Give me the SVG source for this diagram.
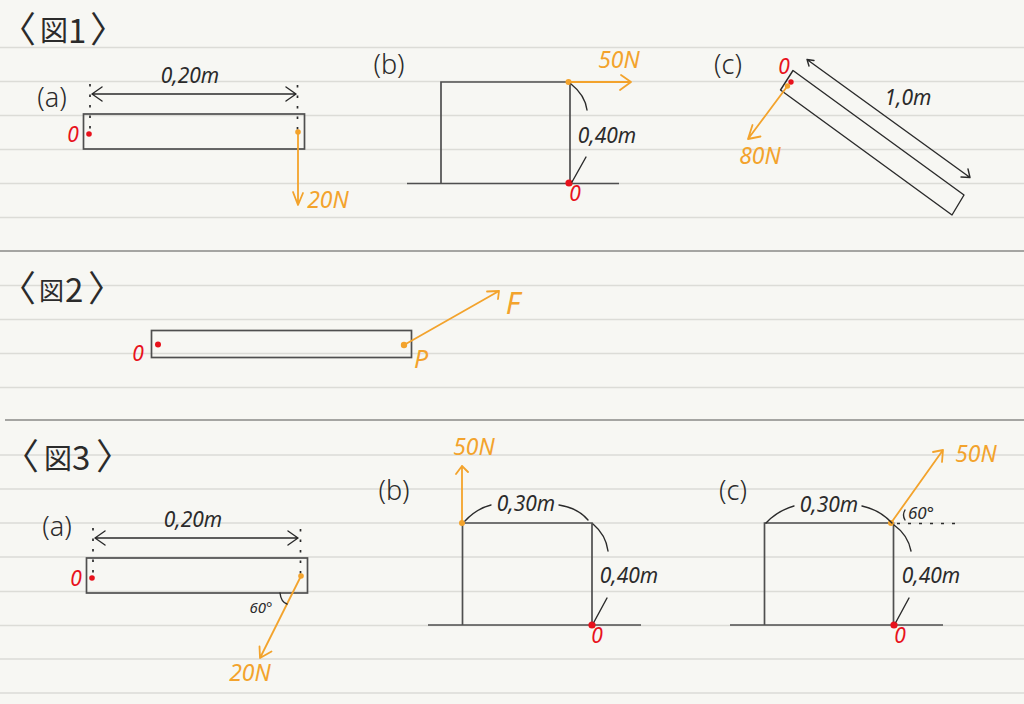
<svg xmlns="http://www.w3.org/2000/svg" width="1024" height="704" viewBox="0 0 1024 704">
<style>
.bg{fill:#f7f7f3}
.rule{stroke:#dcdcd7;stroke-width:1.5;fill:none}
.sep{stroke:#8b8b88;stroke-width:1.6;fill:none}
.body{stroke:#4f4f4f;stroke-width:1.7;fill:none}
.ink{stroke:#2b2b2b;stroke-width:1.4;fill:none;stroke-linecap:round;stroke-linejoin:round}
.dot{stroke:#2b2b2b;stroke-width:1.7;fill:none;stroke-dasharray:2.5 8}
.force{stroke:#f3a32c;stroke-width:1.8;fill:none;stroke-linecap:round;stroke-linejoin:round}
.r{fill:#e8121c}
.o{fill:#f3a32c}
text{font-family:"Noto Sans","Noto Sans CJK JP",sans-serif;font-style:italic;font-weight:400;text-anchor:middle}
.t{font-family:"Noto Sans CJK JP","Noto Sans",sans-serif;font-style:normal;font-size:33px;fill:#2b2b2b;text-anchor:start}
.b{font-size:36px}
.z{font-size:28px}
.k{font-size:21px;fill:#2b2b2b}
.kl{font-size:27px;fill:#2b2b2b;font-style:normal;font-weight:300}
.ko{font-size:23px;fill:#f3a32c}
.kr{font-size:21px;fill:#e8121c}
.s{font-size:15px;fill:#2b2b2b}
</style>
<rect class="bg" width="1024" height="704"/>
<g id="ruled-lines">
<path class="rule" d="M0 47.5H1024M0 81.5H1024M0 115.5H1024M0 149.5H1024M0 183.5H1024M0 217.5H1024M0 285.5H1024M0 319.5H1024M0 353.5H1024M0 387.5H1024M0 455H1024M0 489H1024M0 523H1024M0 557H1024M0 591.500H1024M0 625.500H1024M0 659H1024M0 693H1024"/>
<path class="sep" d="M0 251H1024M5 420H1024"/>
</g>
<g id="titles">
<text class="t" y="42"><tspan class="b" x="0" y="43">〈</tspan><tspan class="z" x="40" y="41">図</tspan><tspan x="68" y="43">1</tspan><tspan class="b" x="90" y="43">〉</tspan></text>
<text class="t" y="302"><tspan class="b" x="0" y="302">〈</tspan><tspan class="z" x="39" y="300" style="font-size:25px">図</tspan><tspan x="65" y="302">2</tspan><tspan class="b" x="88" y="302">〉</tspan></text>
<text class="t" y="470"><tspan class="b" x="3" y="470">〈</tspan><tspan class="z" x="44" y="469">図</tspan><tspan x="72" y="470">3</tspan><tspan class="b" x="96" y="470">〉</tspan></text>
</g>
<g id="fig1a">
<rect class="body" x="83.500" y="114" width="221" height="35"/>
<path class="dot" d="M90 84V130M297.500 85V130"/>
<circle class="r" cx="89" cy="134" r="2.800"/>
<circle class="o" cx="298" cy="132" r="2.800"/>
<text class="kl" x="52" y="107">(a)</text>
<text class="k" x="190" y="83">0,20m</text>
<text class="kr" x="73" y="142">0</text>
<text class="ko" x="328" y="208">20N</text>
</g>
<g id="fig1b">
<path class="body" d="M441 183V82H570V183M407 183.500H619"/>
<circle class="o" cx="568.500" cy="82" r="3"/>
<circle class="r" cx="569" cy="183" r="3.600"/>
<text class="kl" x="389" y="74">(b)</text>
<text class="ko" x="619" y="68">50N</text>
<text class="k" x="607" y="143">0,40m</text>
<text class="kr" x="575" y="201">0</text>
</g>
<g id="fig1c">
<path class="ink" d="M793 70.500L964 195L952 215L780.500 90Z"/>
<circle class="r" cx="791" cy="82" r="2.700"/>
<circle class="o" cx="787.500" cy="86" r="2.700"/>
<text class="kl" x="728" y="74">(c)</text>
<text class="kr" x="784" y="74">0</text>
<text class="k" x="908" y="105">1,0m</text>
<text class="ko" x="760" y="164">80N</text>
</g>
<g id="fig2">
<rect class="body" x="151.500" y="330.500" width="260" height="27"/>
<circle class="r" cx="158" cy="344.500" r="3"/>
<circle class="o" cx="404" cy="345" r="3.200"/>
<text class="kr" x="138" y="361">0</text>
<text class="ko" x="421" y="368" style="font-size:25px">P</text>
<text class="ko" x="513" y="314" style="font-size:30px">F</text>
</g>
<g id="fig3a">
<rect class="body" x="86.500" y="558" width="221" height="35"/>
<path class="dot" d="M93 528V574M300.500 529V574"/>
<circle class="r" cx="92" cy="578" r="2.800"/>
<circle class="o" cx="301" cy="576" r="2.800"/>
<text class="kl" x="57" y="536">(a)</text>
<text class="k" x="193" y="527">0,20m</text>
<text class="kr" x="76" y="586">0</text>
<text class="s" x="261" y="613">60°</text>
<text class="ko" x="250" y="681">20N</text>
</g>
<g id="fig3b">
<path class="body" d="M462.500 625V523H592V625M428 625H641"/>
<circle class="o" cx="462" cy="523" r="3"/>
<circle class="r" cx="592" cy="625" r="3.600"/>
<text class="kl" x="394" y="500">(b)</text>
<text class="ko" x="474" y="455">50N</text>
<text class="k" x="526" y="511">0,30m</text>
<text class="k" x="629" y="583">0,40m</text>
<text class="kr" x="597" y="643">0</text>
</g>
<g id="fig3c">
<path class="body" d="M764.500 625V523H893.500V625M730 625H943"/>
<path class="dot" d="M897 523.500H956" style="stroke-dasharray:3 8"/>
<circle class="o" cx="891" cy="523" r="3"/>
<circle class="r" cx="894" cy="625" r="3.600"/>
<text class="kl" x="733" y="500">(c)</text>
<text class="ko" x="976" y="462">50N</text>
<text class="k" x="829" y="512">0,30m</text>
<text class="s" x="921" y="519" style="font-size:17px">60°</text>
<text class="k" x="931" y="583">0,40m</text>
<text class="kr" x="900" y="643">0</text>
</g>
<g id="connectors">
<path class="ink" d="M92 94H296M102 87L92 94L102 101M286 87L296 94L286 101"/>
<path class="force" d="M298 132V204M293 192L298 205L303 193"/>
<path class="force" d="M568 82H631M621 75L631 82L620 90"/>
<path class="ink" d="M571 84Q585 95 587 110M586 157L572 182"/>
<path class="ink" d="M807 59.500L970 177.500M807 59.500L814 60.500M807 59.500L809 66M970 177.500L961 177M970 177.500L968 169"/>
<path class="force" d="M787.500 86L748 139M760.500 136.500L748 139L752.500 125"/>
<path class="force" d="M404 345L499 291M487 291.500L499 291L498 299"/>
<path class="ink" d="M95 538H298M105 531L95 538L105 545M288 531L298 538L288 545"/>
<path class="force" d="M301 576L260 658M259.500 646.500L260 658L271.500 651.500"/>
<path class="ink" d="M280 593Q281 602 287 604"/>
<path class="force" d="M462 523V466M456 474L462 466L468 472"/>
<path class="ink" d="M465 521Q476 509 491 505M559 505Q578 508 588 520M593 524Q606 535 608 551M607 598L594 622"/>
<path class="force" d="M891 523L943 450M933 452L943 450L942 462"/>
<path class="ink" d="M766 523Q777 511 794 506M862 506Q880 510 892 523M894 525Q908 535 911 551M909 598L896 622M905 510Q902 515 905 520"/>
</g>
</svg>
